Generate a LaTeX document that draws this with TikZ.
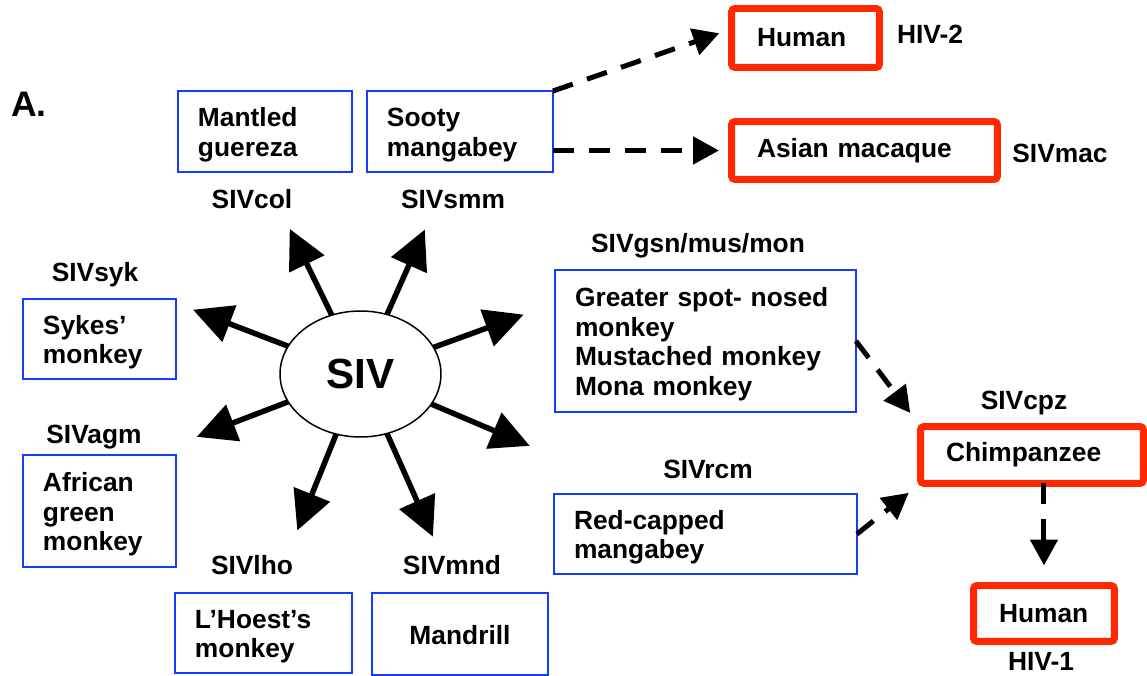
\documentclass[tikz,border=0pt]{standalone}
\usepackage{fontspec}
\setmainfont{Liberation Sans}
\usepackage{tikz}
\definecolor{hostblue}{RGB}{20, 60, 255}
\definecolor{hostred}{RGB}{255, 40, 0}
\usetikzlibrary{shapes.geometric, arrows.meta, calc}

\begin{document}
\begin{tikzpicture}[x=0.02cm, y=0.02cm,
    every node/.style={font=\fontsize{15}{16.8}\selectfont\bfseries, outer sep=0pt},
    monkey/.style={draw=hostblue, line width=0.04cm, anchor=north west, align=left,
                   inner xsep=0.4cm, inner ysep=0pt, minimum height=1.6cm, text height=0.51cm},
    human/.style={draw=hostred, line width=0.14cm, rounded corners=2pt, anchor=north west,
                  align=left, inner xsep=0.51cm, inner ysep=0pt, minimum height=1.16cm},
    virus/.style={anchor=base},
    spread/.style={line width=0.11cm, -{Triangle[length=0.78cm, width=0.76cm]}},
    jump/.style={line width=0.1cm, dash pattern=on 0.42cm off 0.3cm,
                 -{Triangle[length=0.52cm, width=0.54cm]}}
]
    \useasboundingbox (0,0) rectangle (1147,-676);

    % Panel letter
    \node[font=\fontsize{20.2}{24}\selectfont\bfseries, anchor=base] (panel) at (29,-116) {A.};

    % SIV in the middle
    \node[draw, ellipse, line width=0.03cm, fill=white, minimum width=3.22cm,
          minimum height=2.52cm, inner sep=0pt,
          font=\fontsize{24}{28}\selectfont\bfseries] (siv) at (360.5,-374) {SIV};

    % Monkey hosts
    \node[monkey, text width=2.68cm, minimum height=1.62cm] (col) at (178,-91) {Mantled\\guereza};
    \node[monkey, text width=2.92cm, minimum height=1.62cm] (smm) at (367,-91) {Sooty\\mangabey};
    \node[monkey, text width=2.26cm] (syk) at (23,-299) {Sykes’\\monkey};
    \node[monkey, text width=2.26cm, minimum height=2.24cm] (agm) at (23,-455) {African\\green\\monkey};
    \node[monkey, text width=2.74cm] (lho) at (175,-593) {L’Hoest’s\\monkey};
    \node[monkey, text width=2.72cm, align=center, minimum height=1.64cm,
          text height=0.42cm] (mnd) at (372,-593) {Mandrill};
    \node[monkey, text width=5.22cm, minimum height=2.84cm] (gsn) at (555,-270)
        {Greater spot- nosed\\monkey\\Mustached monkey\\Mona monkey};
    \node[monkey, text width=5.26cm] (rcm) at (554,-494) {Red-capped\\mangabey};

    % Human and ape hosts
    \node[human, text width=1.94cm, minimum height=1.18cm] (hum2) at (731.5,-8.5) {Human};
    \node[human, text width=4.30cm] (mac) at (731.5,-121.5) {Asian macaque};
    \node[human, text width=3.44cm, minimum height=1.14cm] (cpz) at (920.5,-426.5) {Chimpanzee};
    \node[human, text width=1.80cm, minimum height=1.12cm] (hum1) at (973.5,-585.5) {Human};

    % Virus labels
    \node[virus] (lcol) at (252,-208) {SIVcol};
    \node[virus] (lsmm) at (453,-208) {SIVsmm};
    \node[virus] (lsyk) at (95,-281) {SIVsyk};
    \node[virus] (lagm) at (94,-443) {SIVagm};
    \node[virus] (llho) at (252,-574) {SIVlho};
    \node[virus] (lmnd) at (452,-574) {SIVmnd};
    \node[virus] (lgsn) at (698,-252) {SIVgsn/mus/mon};
    \node[virus] (lrcm) at (708,-478) {SIVrcm};
    \node[virus] (lcpz) at (1024,-409) {SIVcpz};
    \node[virus] (hiv2) at (930,-43) {HIV-2};
    \node[virus] (lmac) at (1060,-162) {SIVmac};
    \node[virus] (hiv1) at (1041,-670) {HIV-1};

    % Spread out of SIV
    \foreach \a/\l [count=\i] in {20/96, 66/93, 116/96, 159/102, 201/98, 248/104, 294/113, 337/107} {
        \coordinate (tip\i) at ($(siv.\a)+(\a:\l)$);
        \draw[spread] (siv.\a) -- (tip\i);
    }

    % Jumps between species
    \draw[jump, shorten >=0.26cm] (smm.north east) -- ([yshift=0.18cm]hum2.west);
    \draw[jump, shorten >=0.25cm] (smm.east |- mac.west) -- (mac.west);
    \draw[jump, shorten >=0.34cm] (gsn.east) -- (cpz.north west);
    \draw[jump, shorten >=0.3cm] (rcm.east) -- (cpz.south west);
    \draw[jump, shorten >=0.4cm] (hum1.north |- cpz.south) -- (hum1.north);
\end{tikzpicture}
\end{document}
